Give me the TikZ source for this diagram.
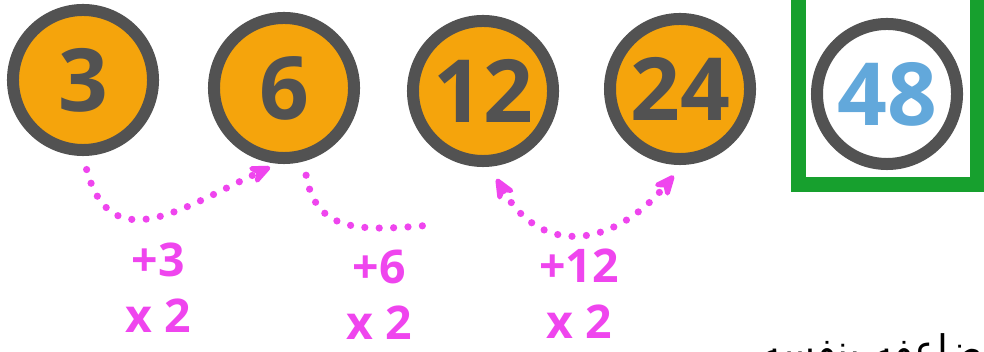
\documentclass[tikz,border=0pt]{standalone}
\usepackage{fontspec}
\setmainfont{Open Sans}
\newfontfamily\arabicfont[Script=Arabic]{DejaVu Sans}
\TeXXeTstate=1
\usetikzlibrary{arrows.meta}
\definecolor{ballorange}{HTML}{F5A40C}
\definecolor{ballgray}{HTML}{525252}
\definecolor{hopmagenta}{HTML}{EF45EE}
\definecolor{answerblue}{HTML}{62A8DB}
\definecolor{framegreen}{HTML}{17A02E}

\begin{document}
\begin{tikzpicture}[
    x=0.025cm, y=0.025cm,
    ball/.style={circle, draw=ballgray, line width=0.3cm, fill=ballorange,
                 minimum size=3.5cm, inner sep=0pt, text=ballgray,
                 font=\fontsize{62}{62}\selectfont\bfseries},
    hop/.style={draw=hopmagenta, line width=0.18cm, line cap=round,
                dash pattern=on 0pt off 0.36cm},
    hoptip/.style={-{Stealth[length=0.7cm, width=0.6cm, round]}},
    bothtips/.style={{Stealth[length=0.7cm, width=0.6cm, round]}-{Stealth[length=0.7cm, width=0.6cm, round]}},
    oplbl/.style={align=center, text=hopmagenta,
                  font=\fontsize{33}{40}\selectfont\bfseries}
  ]
  \useasboundingbox (0,0) rectangle (984,-352);

  % Top row: the numbers
  \node[ball] (n3)  at (83,-80)  {3};
  \node[ball] (n6)  at (284,-88) {6};
  \node[ball] (n12) at (483,-91) {12};
  \node[ball] (n24) at (680,-89) {24};
  \node[ball, fill=white, text=answerblue] (n48) at (887,-94) {48};

  % Frame round the answer
  \draw[framegreen, line width=0.375cm] (798,8) rectangle (977,-185);

  % Dotted hops between the numbers
  \draw[hop, hoptip, shorten <=0.35cm, shorten >=0.2cm]
    (n3.south) to[out=-75, in=205, looseness=1.4] (n6.-95);
  \coordinate (e6) at (432,-225);
  \draw[hop, shorten <=0.35cm] (n6.-75) to[out=-80, in=185, looseness=1.3] (e6);
  \draw[hop, bothtips, shorten <=0.35cm, shorten >=0.35cm]
    (n12.-85) to[out=-60, in=-130, looseness=1.4] (n24.-88);

  % Step labels
  \node[oplbl] (op1) at (158,-288) {+3\\x 2};
  \node[oplbl] (op2) at (379,-295) {+6\\x 2};
  \node[oplbl] (op3) at (579,-294) {+12\\x 2};

  % Note, cut off at the bottom edge
  \node[anchor=base east, inner sep=0pt] (note) at (995,-364)
    {\arabicfont\fontsize{28}{30}\selectfont\beginR يضاعفه بنفسه\endR};
\end{tikzpicture}
\end{document}
